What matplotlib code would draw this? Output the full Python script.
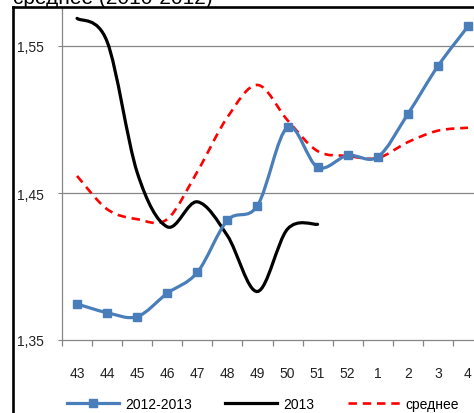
import matplotlib
matplotlib.use("Agg")
import matplotlib.pyplot as plt
import numpy as np
from matplotlib.path import Path
from matplotlib.patches import PathPatch
from matplotlib.lines import Line2D

plt.rcParams['font.family'] = ['Liberation Sans', 'DejaVu Sans']

# data
weeks = ['43', '44', '45', '46', '47', '48', '49', '50', '51', '52', '1', '2', '3', '4']
s_2012_13 = [1.3745, 1.3686, 1.3659, 1.3818, 1.396, 1.4314, 1.4414,
             1.4947, 1.4675, 1.4756, 1.4745, 1.5037, 1.5363, 1.5633]
s_2013 = [1.5688, 1.553, 1.464, 1.427, 1.444, 1.421, 1.383, 1.4255, 1.4287]
s_avg = [1.4616, 1.4390, 1.4322, 1.4322, 1.4645, 1.5015, 1.5235,
         1.4995, 1.4785, 1.4752, 1.4738, 1.4846, 1.4924, 1.4944]
y_ticks = [1.35, 1.45, 1.55]
y_labels = ['1,35', '1,45', '1,55']
names = ['2012-2013', '2013', 'среднее']

blue = '#4A7EBB'
grid_c = '#868686'


def smooth_path(x, y):
    # Excel-like smoothed line (bezier through the points)
    pts = np.column_stack([x, y]).astype(float)
    n = len(pts)
    verts = [pts[0]]
    codes = [Path.MOVETO]
    for i in range(n - 1):
        p0 = pts[i - 1] if i > 0 else pts[i]
        p1, p2 = pts[i], pts[i + 1]
        p3 = pts[i + 2] if i + 2 < n else pts[i + 1]
        verts += [p1 + (p2 - p0) / 6, p2 - (p3 - p1) / 6, p2]
        codes += [Path.CURVE4] * 3
    return Path(verts, codes)


W, H = 474, 414
fig = plt.figure(figsize=(W / 100, H / 100), dpi=100)
ax = fig.add_axes([62 / W, 1 - 341 / H, 421 / W, 333 / H])

x = np.arange(len(weeks))
ax.set_xlim(-0.5, len(weeks) - 0.5)
ax.set_ylim(1.35, 1.35 + 333 / 1470)

for yt in y_ticks[1:]:
    ax.axhline(yt, color=grid_c, lw=0.9, zorder=1)

ax.add_patch(PathPatch(smooth_path(x, s_avg), fill=False, edgecolor='red',
                       lw=1.9, linestyle=(0, (3.2, 2.2)), zorder=3))
ax.add_patch(PathPatch(smooth_path(x[:len(s_2013)], s_2013), fill=False,
                       edgecolor='black', lw=2.3, zorder=4, capstyle='round'))
ax.add_patch(PathPatch(smooth_path(x, s_2012_13), fill=False, edgecolor=blue,
                       lw=2.3, zorder=5))
ax.plot(x, s_2012_13, linestyle='none', marker='s', ms=6.2, color=blue, zorder=6)

for side in ['top', 'right']:
    ax.spines[side].set_visible(False)
ax.spines['left'].set_color(grid_c)
ax.spines['bottom'].set_color(grid_c)
ax.spines['left'].set_linewidth(0.9)
ax.spines['bottom'].set_linewidth(0.9)

ax.set_yticks(y_ticks)
ax.set_yticklabels(y_labels)
ax.tick_params(axis='y', length=3, color=grid_c, pad=10, labelsize=10,
               labelcolor='#222222')
ax.set_xticks(x)
ax.set_xticklabels(weeks)
ax.set_xticks(np.arange(len(weeks)) - 0.5, minor=True)
ax.tick_params(axis='x', which='major', length=0, pad=19, labelsize=10,
               labelcolor='#222222')
ax.tick_params(axis='x', which='minor', length=4, color=grid_c, width=0.9)

handles = [
    Line2D([], [], color=blue, lw=2.3, marker='s', ms=6.2),
    Line2D([], [], color='black', lw=2.3),
    Line2D([], [], color='red', lw=1.9, linestyle=(0, (3.2, 2.2))),
]
fig.legend(handles, names, loc='center left', ncol=3, frameon=False,
           bbox_to_anchor=(67 / W, 1 - 405 / H), bbox_transform=fig.transFigure,
           borderpad=0, borderaxespad=0, fontsize=10, handlelength=3.75,
           handletextpad=0.43, columnspacing=2.4)

# outer frame and the cut title
fig.add_artist(Line2D([13 / W, 13 / W], [0, 1 - 8 / H], color='black', lw=1.9,
                      transform=fig.transFigure, solid_capstyle='projecting'))
fig.add_artist(Line2D([13 / W, 1.0], [1 - 8 / H, 1 - 8 / H], color='black', lw=1.9,
                      transform=fig.transFigure, solid_capstyle='projecting'))
fig.text(13 / W, 1 - 4 / H, 'среднее (2010-2012)', fontsize=15, va='baseline',
         ha='left', color='black')

fig.savefig('out.png', dpi=100)
